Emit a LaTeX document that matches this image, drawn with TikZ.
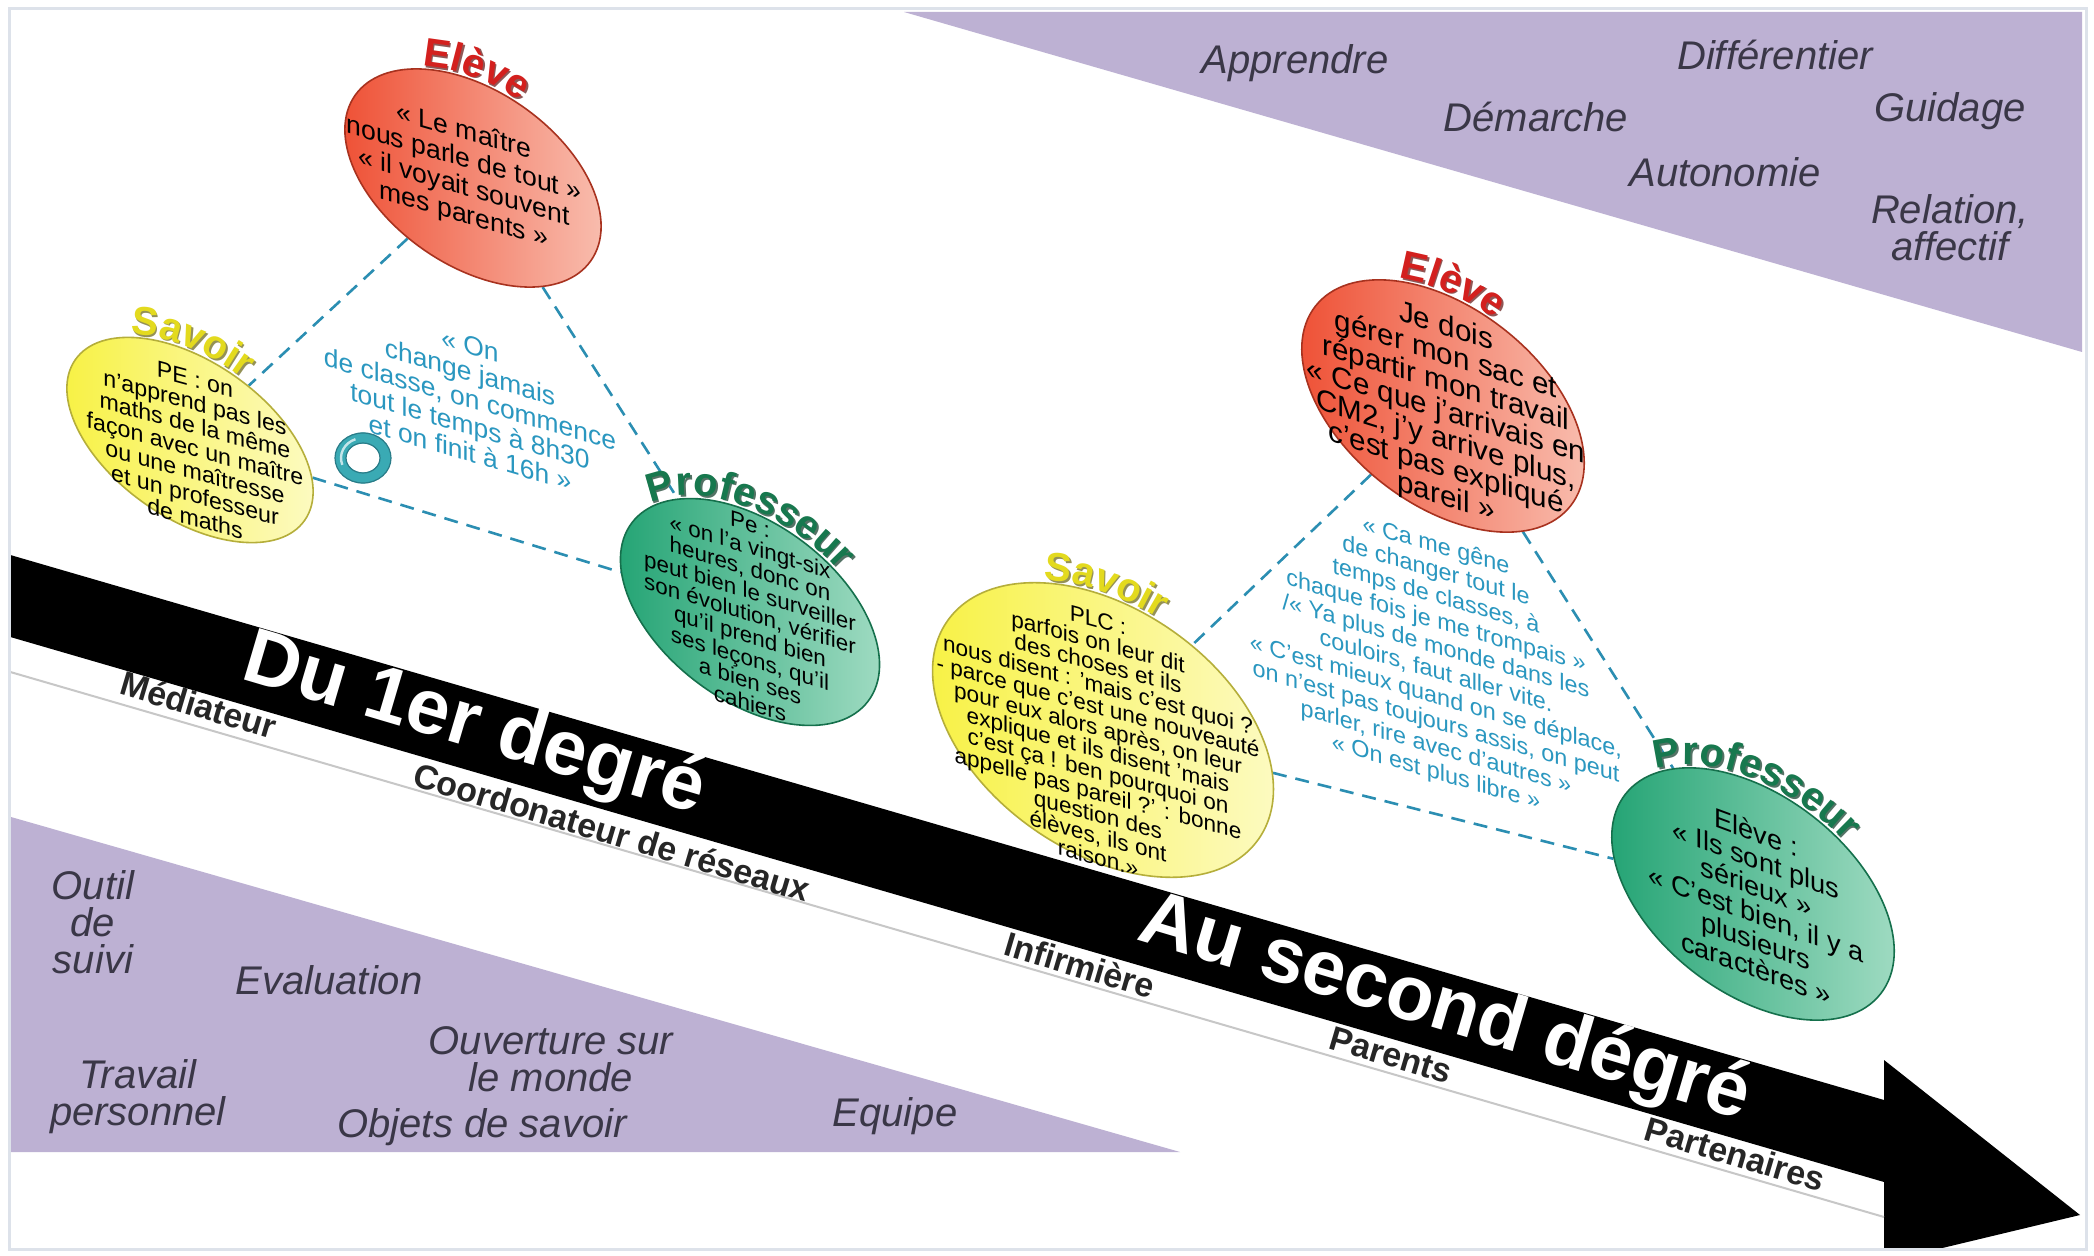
\documentclass[tikz,border=0pt]{standalone}
\usepackage{fontspec}
\setmainfont{Liberation Sans}
\usetikzlibrary{shapes.geometric,decorations.text}

\definecolor{lav}{HTML}{BDB1D3}
\definecolor{wordgrey}{HTML}{3A3747}
\definecolor{dashc}{HTML}{2B8EB2}
\definecolor{quotec}{HTML}{2A97C0}
\definecolor{redbase}{HTML}{EE4B2F}
\definecolor{redlight}{HTML}{F9C3B5}
\definecolor{redline}{HTML}{A8321F}
\definecolor{yelbase}{HTML}{F7F13E}
\definecolor{yellight}{HTML}{FDFBC8}
\definecolor{yelline}{HTML}{B5AE3A}
\definecolor{grnbase}{HTML}{1DA170}
\definecolor{grnlight}{HTML}{A6DEC6}
\definecolor{grnline}{HTML}{15704C}
\definecolor{lblred}{HTML}{D3201E}
\definecolor{lblyel}{HTML}{E3DA1E}
\definecolor{lblgrn}{HTML}{17784E}
\definecolor{framec}{HTML}{DDE2EA}
\definecolor{ringc}{HTML}{3AAAB4}
\definecolor{ringdark}{HTML}{2A7C88}

\pgfdeclarelayer{bg}
\pgfdeclarelayer{links}
\pgfsetlayers{bg,links,main}

\newcommand\lblfont{\fontsize{20}{20}\selectfont\bfseries}

% curved role label along the top of a rotated bubble, with a soft dark shadow
% #1 node, #2 rotation, #3 x radius, #4 y radius, #5 colour, #6 text, #7 start, #8 end
\newcommand\arclabel[8]{%
  \begin{scope}[shift={(#1.center)}, shift={(1.6,-1.6)}, rotate=#2]
    \path[decorate, decoration={text along path, text align=center, raise=1.5pt,
        text={|\lblfont\color{#5!45!black!70}|#6}}]
      (#7:#3 and #4) arc[start angle=#7, end angle=#8, x radius=#3, y radius=#4];
  \end{scope}
  \begin{scope}[shift={(#1.center)}, rotate=#2]
    \path[decorate, decoration={text along path, text align=center, raise=1.5pt,
        text={|\lblfont\color{#5}|#6}}]
      (#7:#3 and #4) arc[start angle=#7, end angle=#8, x radius=#3, y radius=#4];
  \end{scope}}

\tikzset{
  bubble/.style={ellipse, inner sep=0pt, line width=0.8pt},
  redbubble/.style={bubble, draw=redline, left color=redbase, middle color=redbase!92!white, right color=redlight},
  yelbubble/.style={bubble, draw=yelline, left color=yelbase, middle color=yelbase!92!white, right color=yellight},
  grnbubble/.style={bubble, draw=grnline, left color=grnbase, middle color=grnbase!92!white, right color=grnlight},
  conn/.style={draw=dashc, line width=1.3pt, dash pattern=on 7pt off 4.5pt},
  word/.style={font=\fontsize{20}{18.5}\selectfont\itshape, text=wordgrey, align=center},
  bandtext/.style={font=\fontsize{39}{39}\selectfont\bfseries, text=white, rotate=-16.5},
  rolelbl/.style={font=\fontsize{17}{17}\selectfont\bfseries, text=black!85, rotate=-16.5},
  quote/.style={align=center, text=quotec, inner sep=0pt, yslant=-0.29},
  btext/.style={align=center, text=black, inner sep=0pt}
}

\begin{document}
\begin{tikzpicture}[x=0.5pt, y=0.5pt]
\useasboundingbox (0,0) rectangle (2094,1255);

\begin{pgfonlayer}{bg}
\fill[white] (0,0) rectangle (2094,1255);
\begin{scope}
\clip (9,6) rectangle (2086,1246);
% lavender wedges
\fill[lav] (904,1243) -- (2082,1243) -- (2082,903) -- cycle;
\fill[lav] (11,438) -- (11,103) -- (1180,103) -- cycle;
% timeline arrow
\fill[black] (0,703) -- (1884,155) -- (1884,195) -- (2080,40) -- (1884,-7)
  -- (1884,73) -- (0,621) -- cycle;
\draw[black!22, line width=1pt] (0,586) -- (1884,38);
\end{scope}
\end{pgfonlayer}

% words in the wedges
\node[word] (w1) at (1295,1192) {Apprendre};
\node[word] (w2) at (1775,1200) {Différentier};
\node[word] (w3) at (1536,1138) {Démarche};
\node[word] (w4) at (1950,1144) {Guidage};
\node[word] (w5) at (1725,1083) {Autonomie};
\node[word] (w6) at (1950,1027) {Relation,\\affectif};
\node[word] (w7) at (93,333) {Outil\\de\\suivi};
\node[word] (w8) at (329,275) {Evaluation};
\node[word] (w9) at (551,196) {Ouverture sur\\le monde};
\node[word] (w10) at (138,158) {Travail\\personnel};
\node[word] (w11) at (482,128) {Objets de savoir};
\node[word] (w12) at (895,139) {Equipe};

% texts on and under the arrow
\node[bandtext] (t1) at (474,528) {Du 1er degré};
\node[bandtext] (t2) at (1445,245) {Au second dégré};
\node[rolelbl] (r1) at (199,550) {Médiateur};
\node[rolelbl] (r2) at (612,423) {Coordonateur de réseaux};
\node[rolelbl] (r3) at (1080,290) {Infirmière};
\node[rolelbl] (r4) at (1391,200) {Parents};
\node[rolelbl] (r5) at (1735,101) {Partenaires};

% bubbles
\node[redbubble, minimum width=144pt, minimum height=87pt, rotate=-35] (EL) at (473,1077) {};
\node[yelbubble, minimum width=140pt, minimum height=78pt, rotate=-35] (SL) at (190,815) {};
\node[grnbubble, minimum width=148pt, minimum height=88pt, rotate=-37] (PL) at (750,643) {};
\node[redbubble, minimum width=162pt, minimum height=98pt, rotate=-38] (ER) at (1443,849) {};
\node[yelbubble, minimum width=190pt, minimum height=121pt, rotate=-35] (SR) at (1103,525) {};
\node[grnbubble, minimum width=162pt, minimum height=98pt, rotate=-38] (PR) at (1753,361) {};

% dashed links of the two triangles, kept under the bubbles
\begin{pgfonlayer}{links}
\draw[conn] (EL) -- (SL);
\draw[conn] (EL) -- (PL);
\draw[conn] (SL) -- (PL);
\draw[conn] (ER) -- (SR);
\draw[conn] (ER) -- (PR);
\draw[conn] (SR) -- (PR);
\end{pgfonlayer}

% role labels curved over the bubbles
\arclabel{EL}{-35}{144}{87}{lblred}{Elève}{212}{37}
\arclabel{SL}{-35}{140}{78}{lblyel}{Savoir}{212}{37}
\arclabel{PL}{-37}{148}{88}{lblgrn}{Professeur}{212}{37}
\arclabel{ER}{-38}{162}{98}{lblred}{Elève}{212}{37}
\arclabel{SR}{-35}{190}{121}{lblyel}{Savoir}{212}{37}
\arclabel{PR}{-38}{162}{98}{lblgrn}{Professeur}{212}{37}

% bubble contents
\node[btext, yslant=-0.29, font=\fontsize{13.3}{13.9}\selectfont] (ELt) at (464,1081)
  {« Le maître\\nous parle de tout »\\« il voyait souvent\\mes parents »};
\node[btext, yslant=-0.27, font=\fontsize{11.6}{11.6}\selectfont] (SLt) at (195,806)
  {PE : on\\n'apprend pas les\\maths de la même\\façon avec un maître\\ou une maîtresse\\et un professeur\\de maths};
\node[btext, yslant=-0.31, font=\fontsize{11.2}{11.2}\selectfont] (PLt) at (750,641)
  {Pe :\\« on l'a vingt-six\\heures, donc on\\peut bien le surveiller\\son évolution, vérifier\\qu'il prend bien\\ses leçons, qu'il\\a bien ses\\cahiers};
\node[btext, yslant=-0.31, font=\fontsize{14.8}{14.2}\selectfont] (ERt) at (1446,842)
  {Je dois\\gérer mon sac et\\répartir mon travail\\« Ce que j'arrivais en\\CM2, j'y arrive plus,\\c'est pas expliqué\\pareil »};
\node[btext, yslant=-0.27, font=\fontsize{11.3}{10.8}\selectfont] (SRt) at (1098,516)
  {PLC :\\parfois on leur dit\\des choses et ils\\nous disent : 'mais c'est quoi ?\\- parce que c'est une nouveauté\\pour eux alors après, on leur\\explique et ils disent 'mais\\c'est ça ! ben pourquoi on\\appelle pas pareil ?' : bonne\\question des\\élèves, ils ont\\raison.»};
\node[btext, yslant=-0.37, font=\fontsize{13.6}{13.6}\selectfont] (PRt) at (1756,355)
  {Elève :\\« Ils sont plus\\sérieux »\\« C'est bien, il y a\\plusieurs\\caractères »};

% quotes inside the triangles
\node[quote, font=\fontsize{13.2}{13.4}\selectfont] (QL) at (470,856)
  {« On\\change jamais\\de classe, on commence\\tout le temps à 8h30\\et on finit à 16h »};
\node[quote, font=\fontsize{11.7}{12.6}\selectfont] (QR) at (1436,595)
  {« Ca me gêne\\de changer tout le\\temps de classes, à\\chaque fois je me trompais »\\/« Ya plus de monde dans les\\couloirs, faut aller vite.\\« C'est mieux quand on se déplace,\\on n'est pas toujours assis, on peut\\parler, rire avec d'autres »\\« On est plus libre »};

% small ring
\draw[ringc, line width=5.5pt] (363,797) ellipse [x radius=22.5, y radius=20];
\draw[ringdark, line width=0.6pt] (363,797) ellipse [x radius=28, y radius=25];
\draw[ringdark, line width=0.6pt] (363,797) ellipse [x radius=17, y radius=15];
\draw[white!70!ringc, line width=1.2pt] (363,797) ++(110:22 and 20) arc[start angle=110, end angle=200, x radius=22, y radius=20];

% frame
\draw[framec, line width=1.5pt] (9,6) rectangle (2086,1246);
\end{tikzpicture}
\end{document}
